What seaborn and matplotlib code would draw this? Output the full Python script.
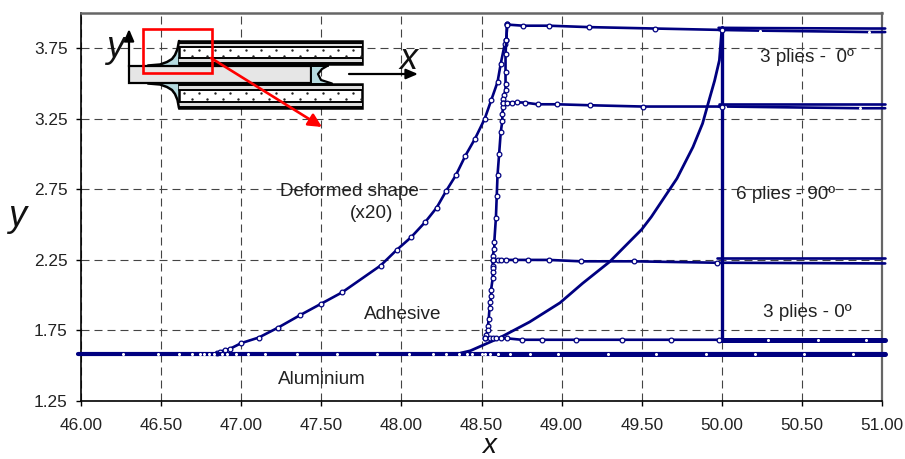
import matplotlib
matplotlib.use("Agg")
import matplotlib.pyplot as plt
import matplotlib.patches as mpatches
import numpy as np
import pandas as pd
import seaborn as sns

# fillet outer surface
fillet_x = [46.85, 46.87, 46.90, 46.93, 47.00, 47.11, 47.23, 47.37, 47.50, 47.63, 47.87, 47.97,
            48.06, 48.15, 48.22, 48.28, 48.34, 48.40, 48.46, 48.52, 48.56, 48.60, 48.62, 48.645,
            48.655, 48.66]
fillet_y = [1.59, 1.60, 1.61, 1.62, 1.66, 1.70, 1.77, 1.86, 1.94, 2.02, 2.21, 2.32,
            2.41, 2.52, 2.62, 2.74, 2.85, 2.99, 3.11, 3.25, 3.38, 3.51, 3.64, 3.78,
            3.81, 3.92]

# laminate edge
edge_x = [48.66, 48.655, 48.65, 48.65, 48.65, 48.65, 48.64, 48.635, 48.635, 48.635, 48.63, 48.63,
          48.62, 48.61, 48.60, 48.595, 48.59, 48.58, 48.58, 48.57, 48.57, 48.57, 48.57, 48.57,
          48.57, 48.56, 48.56, 48.555, 48.55, 48.545, 48.54, 48.54, 48.53, 48.52]
edge_y = [3.92, 3.81, 3.71, 3.58, 3.495, 3.453, 3.417, 3.394, 3.365, 3.335, 3.287, 3.235,
          3.155, 3.00, 2.85, 2.70, 2.55, 2.38, 2.33, 2.28, 2.25, 2.21, 2.19, 2.165,
          2.12, 2.04, 1.995, 1.95, 1.91, 1.83, 1.78, 1.75, 1.72, 1.694]

# ply interfaces
top_x = [48.66, 48.76, 48.92, 49.17, 49.58, 50.00]
top_y = [3.918, 3.91, 3.91, 3.90, 3.89, 3.88]
upper_x = [48.635, 48.66, 48.69, 48.72, 48.77, 48.85, 48.97, 49.18, 49.51, 50.00]
upper_y = [3.365, 3.365, 3.365, 3.367, 3.365, 3.353, 3.353, 3.346, 3.337, 3.337]
lower_x = [48.57, 48.60, 48.62, 48.65, 48.71, 48.79, 48.92, 49.12, 49.45, 49.97]
lower_y = [2.25, 2.25, 2.25, 2.25, 2.25, 2.25, 2.25, 2.24, 2.24, 2.23]
bottom_x = [48.52, 48.55, 48.57, 48.59, 48.62, 48.66, 48.75, 48.88, 49.09, 49.38, 49.68, 49.98]
bottom_y = [1.694, 1.694, 1.694, 1.694, 1.694, 1.694, 1.684, 1.684, 1.684, 1.684, 1.684, 1.684]

# right of the end of the adhesive (small white dots on the line)
top_end_x = [49.98, 50.24, 50.92, 51.02]
top_end_a = [3.895, 3.893, 3.89, 3.89]
top_end_b = [3.88, 3.875, 3.865, 3.865]
upper_end_x = [49.98, 50.02, 50.86, 51.02]
upper_end_a = [3.352, 3.352, 3.352, 3.352]
upper_end_b = [3.337, 3.337, 3.325, 3.325]
lower_end_x = [49.97, 51.02]
lower_end_a = [2.26, 2.26]
lower_end_b = [2.23, 2.225]
bottom_end_x = [49.98, 50.29, 50.60, 50.90, 51.02]
bottom_end_y = [1.685, 1.685, 1.685, 1.685, 1.685]

# inner adhesive curve, no markers
inner_x = [48.37, 48.43, 48.61, 48.80, 48.99, 49.13, 49.30, 49.50, 49.56, 49.72, 49.82, 49.88,
           49.92, 49.955, 49.985, 50.00]
inner_y = [1.59, 1.606, 1.696, 1.81, 1.946, 2.083, 2.237, 2.466, 2.555, 2.827, 3.05, 3.217,
           3.38, 3.52, 3.665, 3.88]
wall_x = [50.0, 50.0]
wall_y = [1.68, 3.90]

# aluminium surface
alu_x = [45.98, 46.26, 46.48, 46.61, 46.69, 46.74, 46.77, 46.80, 46.83, 46.88, 46.91, 46.97,
         47.04, 47.15, 47.35, 47.60, 47.85, 48.05, 48.20, 48.28, 48.36, 48.41, 48.44, 48.50,
         48.52, 48.555, 48.60, 48.68, 48.80, 48.98, 49.29, 49.59, 49.90, 50.21, 50.515, 50.82, 51.02]
alu_y = [1.583] * len(alu_x)
alu_band_x = [48.6, 51.02]
alu_band_y = [1.583, 1.583]

x_ticks = [46, 46.5, 47, 47.5, 48, 48.5, 49, 49.5, 50, 50.5, 51]
y_ticks = [1.25, 1.75, 2.25, 2.75, 3.25, 3.75]

W, H = 905, 459
NAVY = "#000080"
ADH = "#b5dbe0"

sns.set_style("white")
plt.rcParams["font.family"] = ["Liberation Sans", "DejaVu Sans"]

fig = plt.figure(figsize=(W / 100, H / 100), dpi=100)
ax = fig.add_axes([81 / W, 1 - 401 / H, (882 - 81) / W, (401 - 13) / H])


def curve(xs, ys, lw=1.9, ms=0, clip=True, white_dots=False):
    df = pd.DataFrame({"x": xs, "y": ys})
    kw = {}
    if white_dots:
        # small white dots, none at the two line ends
        kw = dict(marker="o", markersize=2.2, markerfacecolor="white", markeredgewidth=0,
                  markevery=slice(1, len(xs) - 1))
    elif ms:
        kw = dict(marker="o", markersize=ms, markerfacecolor="white",
                  markeredgecolor=NAVY, markeredgewidth=0.9)
    sns.lineplot(data=df, x="x", y="y", sort=False, estimator=None, color=NAVY, lw=lw,
                 ax=ax, clip_on=clip, zorder=3, **kw)


curve(inner_x, inner_y, lw=2.0)
curve(wall_x, wall_y, lw=2.4)
curve(top_end_x, top_end_a, lw=1.9, clip=False)
curve(top_end_x, top_end_b, lw=1.9, clip=False, white_dots=True)
curve(upper_end_x, upper_end_a, lw=1.9, clip=False)
curve(upper_end_x, upper_end_b, lw=1.9, clip=False, white_dots=True)
curve(lower_end_x, lower_end_a, lw=1.9, clip=False)
curve(lower_end_x, lower_end_b, lw=1.9, clip=False)
curve(bottom_end_x, bottom_end_y, lw=3.6, clip=False, white_dots=True)
curve(alu_band_x, alu_band_y, lw=3.6, clip=False)
curve(fillet_x, fillet_y, ms=3.4)
curve(edge_x, edge_y, ms=3.4)
curve(top_x, top_y, ms=3.4)
curve(upper_x, upper_y, ms=3.4)
curve(lower_x, lower_y, ms=3.4)
curve(bottom_x, bottom_y, ms=3.4)
curve(alu_x, alu_y, lw=3.0, clip=False, white_dots=True)

ax.set_xlim(46, 51)
ax.set_ylim(1.25, 4.0)
ax.set_xticks(x_ticks)
ax.set_yticks(y_ticks)
ax.set_xticklabels([f"{v:.2f}" for v in x_ticks])
ax.set_yticklabels([f"{v:.2f}" for v in y_ticks])
ax.tick_params(axis="both", length=3.6, width=1, color="black", labelsize=12.4,
               labelcolor="#222222", bottom=True, left=True)
ax.tick_params(axis="x", pad=9)
ax.tick_params(axis="y", pad=6)
ax.grid(True, color="#444444", lw=0.8, linestyle=(0, (7.2, 4.5)))
ax.set_axisbelow(True)
ax.set_xlabel("")
ax.set_ylabel("")
for side in ["left", "bottom"]:
    ax.spines[side].set_color("black")
    ax.spines[side].set_linewidth(1.2)
ax.spines["top"].set_color("#666666")
ax.spines["top"].set_linewidth(1.8)
ax.spines["right"].set_color("#666666")
ax.spines["right"].set_linewidth(1.6)

# annotation labels, placed in pixels on an overlay
ov = fig.add_axes([0, 0, 1, 1], facecolor="none")
ov.set_xlim(0, W)
ov.set_ylim(H, 0)
ov.axis("off")
labels = [("Deformed shape", 349, 191.5), ("(x20)", 372, 213.5), ("Adhesive", 403, 314.5),
          ("Aluminium", 322, 380), ("3 plies -  0º", 807, 57.5), ("6 plies - 90º", 786, 194.5),
          ("3 plies - 0º", 807, 312.5)]
for txt, px, py in labels:
    ov.text(px, py, txt, ha="center", va="center", fontsize=13.6, color="#222222", zorder=6)
for txt, px, py, size in [("x", 489, 453, 20), ("y", 17, 226, 26), ("y", 115, 57, 26), ("x", 409, 69, 26)]:
    ov.text(px, py, txt, fontsize=size, style="italic", ha="center", va="baseline",
            color="#111111", zorder=7)

# joint sketch
for y0, y1 in [(41, 64.3), (83.5, 108)]:
    ov.add_patch(mpatches.Rectangle((179, y0), 183, y1 - y0, fc="white", ec="black", lw=1.8, zorder=4))
    ov.add_patch(mpatches.Rectangle((179, y0 + 1), 183, 5.5, fc="#dddddd", ec="none", zorder=4.1))
    ov.add_patch(mpatches.Rectangle((179, y1 - 6.5), 183, 5.5, fc="#dddddd", ec="none", zorder=4.1))
    for yl in (y0 + 1.5, y0 + 6, y1 - 6, y1 - 1.5):
        ov.plot([179, 362], [yl, yl], color="black", lw=1.4, zorder=5)
    mid = (y0 + y1) / 2
    sx = np.arange(184, 360, 15.4)
    ov.scatter(sx, np.full(sx.shape, mid - 3), s=3, color="#222222", lw=0, zorder=5)
    ov.scatter(sx + 7.7, np.full(sx.shape, mid + 3), s=3, color="#222222", lw=0, zorder=5)

ov.add_patch(mpatches.Rectangle((129, 66), 182, 17, fc="#e6e6e6", ec="black", lw=1.6, zorder=4))
gap_x = [328, 322, 318, 321, 332]
gap_y = [65.5, 69, 74, 80, 83.5]
ov.add_patch(mpatches.Polygon([(311, 65.5)] + list(zip(gap_x, gap_y)) + [(311, 83.5)],
                              fc=ADH, ec="none", zorder=4))
ov.plot(gap_x, gap_y, color="black", lw=1.6, zorder=5)
ov.plot([311, 311], [66, 83], color="black", lw=1.4, zorder=5)
ov.plot([311, 328], [65.5, 65.5], color="black", lw=1.4, zorder=5)
ov.plot([311, 332], [83.5, 83.5], color="black", lw=1.4, zorder=5)

# adhesive fillets of the sketch
fx = np.array([148, 160, 167, 172, 175, 177.5, 179])
fy = np.array([65.5, 64.5, 62, 59, 55, 49, 41])
ov.fill_between(fx, fy, 66, color=ADH, lw=0, zorder=3.5)
ov.plot(fx, fy, color="black", lw=1.8, zorder=5)
fy2 = 149 - fy
ov.fill_between(fx, 83, fy2, color=ADH, lw=0, zorder=3.5)
ov.plot(fx, fy2, color="black", lw=1.8, zorder=5)

ov.add_patch(mpatches.Rectangle((142.5, 29), 69, 44, fc="none", ec="#ff0000", lw=1.9, zorder=7))
ov.annotate("", xy=(322, 127), xytext=(211, 58), zorder=7,
            arrowprops=dict(arrowstyle="-|>,head_length=0.8,head_width=0.4", color="#ff0000", lw=1.9,
                            shrinkA=0, shrinkB=0))
ov.annotate("", xy=(129, 29), xytext=(129, 67), zorder=6,
            arrowprops=dict(arrowstyle="-|>,head_length=0.7,head_width=0.3", color="black", lw=1.6,
                            shrinkA=0, shrinkB=0))
ov.annotate("", xy=(418, 74), xytext=(349, 74), zorder=6,
            arrowprops=dict(arrowstyle="-|>,head_length=0.7,head_width=0.3", color="black", lw=1.6,
                            shrinkA=0, shrinkB=0))

fig.savefig("out.png", dpi=100)
plt.close(fig)
